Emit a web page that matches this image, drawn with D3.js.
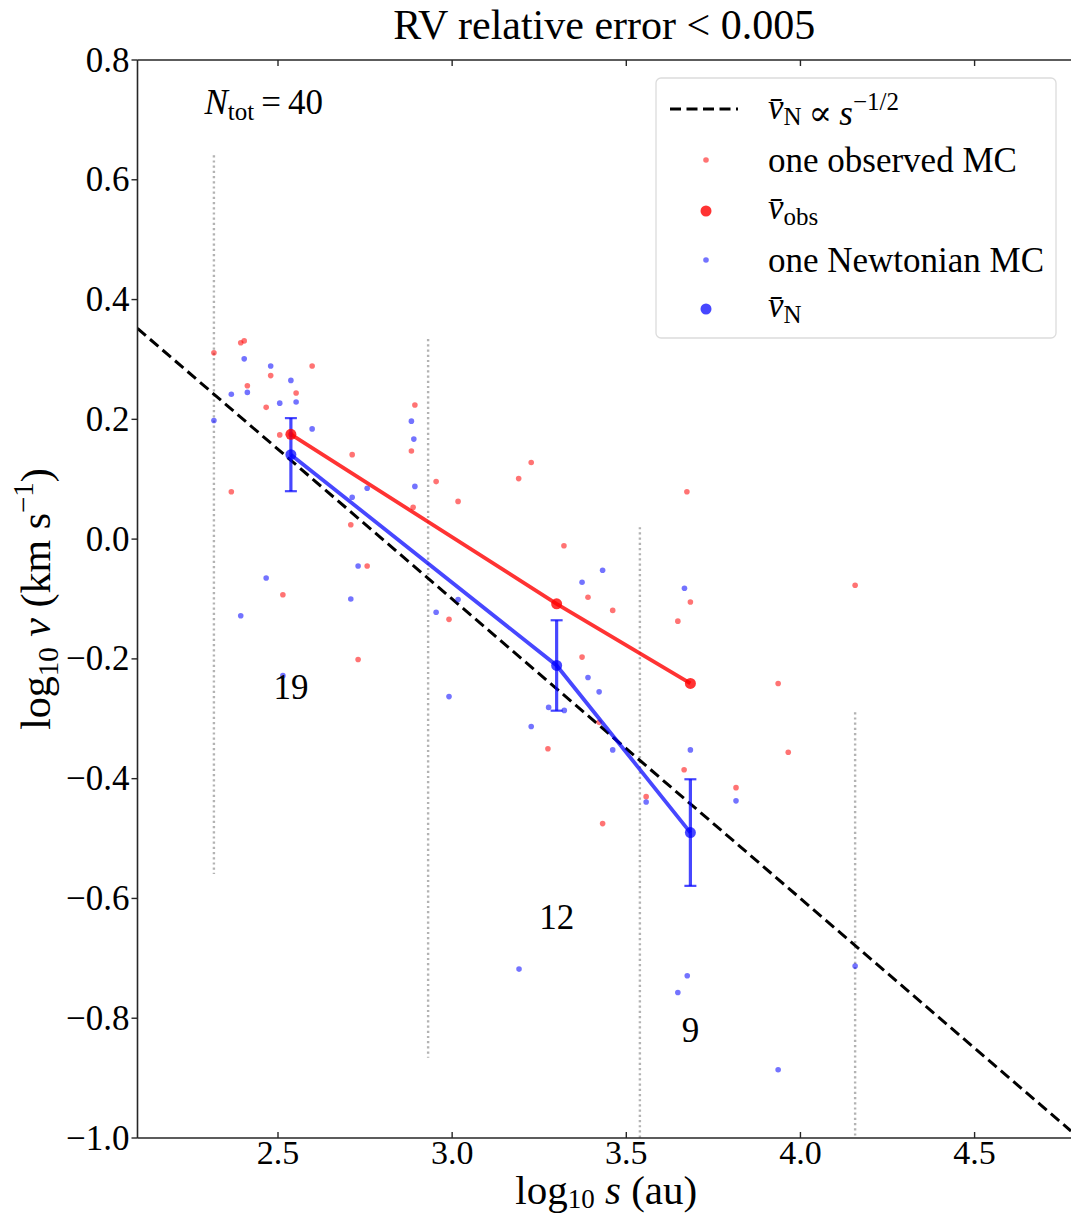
<!DOCTYPE html>
<html>
<head>
<meta charset="utf-8">
<script src="https://cdn.jsdelivr.net/npm/d3@7"></script>
<style>
  html, body { margin: 0; padding: 0; background: #fff; }
  svg { display: block; }
  text { font-family: "Liberation Serif", "DejaVu Serif", serif; fill: #000; }
</style>
</head>
<body>
<svg id="chart" width="1071" height="1216"></svg>
<script>
// ---------------- data ----------------
const titleText = "RV relative error < 0.005";
const xTicks = [2.5, 3.0, 3.5, 4.0, 4.5];
const yTicks = [0.8, 0.6, 0.4, 0.2, 0.0, -0.2, -0.4, -0.6, -0.8, -1.0];
const xDomain = [2.0966, 4.7768];
const yDomain = [-1.0, 0.8];

// one observed MC realisation (red)
const obsX = [2.316, 2.393, 2.403, 2.598, 2.412, 2.479, 2.552, 2.466, 2.505, 2.713,
              2.366, 2.709, 2.514, 2.730, 2.893, 2.883, 2.954, 3.017, 2.888, 2.756,
              2.991, 3.227, 3.191, 3.321, 3.390, 3.461, 3.373, 3.275, 3.432, 3.674,
              3.684, 3.648, 3.936, 3.666, 3.815, 3.557, 3.965, 4.157, 3.422, 2.537];
const obsY = [0.311, 0.328, 0.331, 0.289, 0.256, 0.273, 0.244, 0.220, 0.174, 0.141,
              0.079, 0.024, -0.093, -0.201, 0.224, 0.147, 0.096, 0.063, 0.053, -0.045,
              -0.134, 0.128, 0.101, -0.011, -0.097, -0.119, -0.197, -0.350, -0.475, 0.079,
              -0.105, -0.137, -0.241, -0.385, -0.415, -0.430, -0.356, -0.077, -0.306, 0.175];

// one Newtonian MC realisation (blue)
const newtX = [2.403, 2.479, 2.537, 2.366, 2.412, 2.505, 2.552, 2.316, 2.598, 2.713,
               2.730, 2.466, 2.393, 2.709, 2.514, 2.883, 2.890, 2.893, 2.756, 2.954,
               3.017, 2.991, 3.432, 3.373, 3.390, 3.422, 3.277, 3.322, 3.227, 3.461,
               3.192, 3.667, 3.684, 3.815, 3.557, 3.675, 3.648, 4.157, 3.936];
const newtY = [0.301, 0.289, 0.265, 0.242, 0.245, 0.227, 0.229, 0.198, 0.184, 0.070,
               -0.045, -0.065, -0.128, -0.100, -0.228, 0.197, 0.167, 0.088, 0.085, -0.122,
               -0.101, -0.263, -0.052, -0.072, -0.231, -0.255, -0.281, -0.286, -0.313, -0.352,
               -0.718, -0.082, -0.352, -0.437, -0.439, -0.729, -0.757, -0.713, -0.886];

// bin means
const binMeanX = [2.537, 3.300, 3.684];
const obsMean  = [0.175, -0.108, -0.241];
const newtMean = [0.141, -0.211, -0.490];
const newtErr  = [0.061, 0.0755, 0.089];

// bin edges (dotted verticals)
const binEdges      = [2.316, 2.931, 3.539, 4.157];
const binEdgeTop    = [0.641, 0.334, 0.020, -0.289];
const binEdgeBottom = [-0.559, -0.866, -1.18, -1.489];

// counts per bin
const binCounts  = ["19", "12", "9"];
const countLabelY = [-0.248, -0.631, -0.820];
const nTot = 40;

// Newtonian scaling v ∝ s^(-1/2)
const powerNorm = 1.40;
const powerSlope = -0.5;

// ---------------- drawing ----------------
(function () {
const svg = d3.select("#chart");
const pL = 137.5, pR = 1071, pT = 60, pB = 1138;
const FS = 35, FL = 42, FSUB = 25;

const x = d3.scaleLinear().domain(xDomain).range([pL, pR]);
const y = d3.scaleLinear().domain(yDomain).range([pB, pT]);

const red = "rgba(255,0,0,0.55)", blue = "rgba(0,0,255,0.55)";
const redStrong = "rgba(255,0,0,0.8)", blueStrong = "rgba(0,0,255,0.72)";

svg.append("defs").append("clipPath").attr("id", "plotclip")
  .append("rect").attr("x", pL).attr("y", pT).attr("width", pR - pL).attr("height", pB - pT);

const plot = svg.append("g").attr("clip-path", "url(#plotclip)");

// dotted bin edges
plot.selectAll("line.edge").data(binEdges).join("line")
  .attr("class", "edge")
  .attr("x1", d => x(d)).attr("x2", d => x(d))
  .attr("y1", (d, i) => y(binEdgeTop[i])).attr("y2", (d, i) => y(binEdgeBottom[i]))
  .attr("stroke", "#b3b3b3").attr("stroke-width", 2.4).attr("stroke-dasharray", "2.2,3");

// power law dashed line
plot.append("line")
  .attr("x1", x(xDomain[0])).attr("y1", y(powerNorm + powerSlope * xDomain[0]))
  .attr("x2", x(xDomain[1])).attr("y2", y(powerNorm + powerSlope * xDomain[1]))
  .attr("stroke", "#000").attr("stroke-width", 3).attr("stroke-dasharray", "11,5.5");

// MC points
plot.selectAll("circle.obs").data(obsX).join("circle").attr("class", "obs")
  .attr("cx", d => x(d)).attr("cy", (d, i) => y(obsY[i])).attr("r", 2.8).attr("fill", red);
plot.selectAll("circle.newt").data(newtX).join("circle").attr("class", "newt")
  .attr("cx", d => x(d)).attr("cy", (d, i) => y(newtY[i])).attr("r", 2.8).attr("fill", blue);

// mean lines
const lineGen = (vals) => d3.line().x((d, i) => x(binMeanX[i])).y(d => y(d))(vals);
plot.append("path").attr("d", lineGen(obsMean)).attr("fill", "none")
  .attr("stroke", redStrong).attr("stroke-width", 3.8);
plot.append("path").attr("d", lineGen(newtMean)).attr("fill", "none")
  .attr("stroke", blueStrong).attr("stroke-width", 3.8);

// error bars
const eb = plot.selectAll("g.eb").data(newtMean).join("g").attr("class", "eb");
eb.append("line")
  .attr("x1", (d, i) => x(binMeanX[i])).attr("x2", (d, i) => x(binMeanX[i]))
  .attr("y1", (d, i) => y(d + newtErr[i])).attr("y2", (d, i) => y(d - newtErr[i]))
  .attr("stroke", blueStrong).attr("stroke-width", 3.2);
[1, -1].forEach(s => {
  eb.append("line")
    .attr("x1", (d, i) => x(binMeanX[i]) - 6).attr("x2", (d, i) => x(binMeanX[i]) + 6)
    .attr("y1", (d, i) => y(d + s * newtErr[i])).attr("y2", (d, i) => y(d + s * newtErr[i]))
    .attr("stroke", blueStrong).attr("stroke-width", 2.2);
});

// mean markers
plot.selectAll("circle.om").data(obsMean).join("circle").attr("class", "om")
  .attr("cx", (d, i) => x(binMeanX[i])).attr("cy", d => y(d)).attr("r", 5.5).attr("fill", redStrong);
plot.selectAll("circle.nm").data(newtMean).join("circle").attr("class", "nm")
  .attr("cx", (d, i) => x(binMeanX[i])).attr("cy", d => y(d)).attr("r", 5.5).attr("fill", blueStrong);

// count labels
svg.selectAll("text.count").data(binCounts).join("text").attr("class", "count")
  .attr("x", (d, i) => x(binMeanX[i])).attr("y", (d, i) => y(countLabelY[i]))
  .attr("text-anchor", "middle").attr("dominant-baseline", "central")
  .attr("font-size", FS).text(d => d);

// ---------------- axes ----------------
const spine = "#262626";
const fmt = v => (v < 0 ? "\u2212" : "") + Math.abs(v).toFixed(1);

svg.append("line").attr("x1", pL).attr("x2", pL).attr("y1", pT).attr("y2", pB)
  .attr("stroke", spine).attr("stroke-width", 1.6);
svg.append("line").attr("x1", pL).attr("x2", pR).attr("y1", pB).attr("y2", pB)
  .attr("stroke", spine).attr("stroke-width", 1.6);
svg.append("line").attr("x1", pL).attr("x2", pR).attr("y1", pT).attr("y2", pT)
  .attr("stroke", spine).attr("stroke-width", 1.6);

const xt = svg.append("g");
xTicks.forEach(t => {
  xt.append("line").attr("x1", x(t)).attr("x2", x(t)).attr("y1", pB).attr("y2", pB - 6)
    .attr("stroke", spine).attr("stroke-width", 1.4);
  xt.append("line").attr("x1", x(t)).attr("x2", x(t)).attr("y1", pT).attr("y2", pT + 6)
    .attr("stroke", spine).attr("stroke-width", 1.4);
  xt.append("text").attr("x", x(t)).attr("y", pB + 26).attr("text-anchor", "middle")
    .attr("font-size", 34).text(t.toFixed(1));
});

const yt = svg.append("g");
yTicks.forEach(t => {
  yt.append("line").attr("x1", pL).attr("x2", pL - 6).attr("y1", y(t)).attr("y2", y(t))
    .attr("stroke", spine).attr("stroke-width", 1.4);
  yt.append("text").attr("x", pL - 8).attr("y", y(t)).attr("text-anchor", "end")
    .attr("dominant-baseline", "central").attr("font-size", FS).text(fmt(t));
});

svg.append("text").attr("x", (pL + pR) / 2).attr("y", 39).attr("text-anchor", "middle")
  .attr("font-size", FL).text(titleText);

const xl = svg.append("text").attr("x", (pL + pR) / 2 + 2).attr("y", 1204)
  .attr("text-anchor", "middle").attr("font-size", 41);
xl.append("tspan").text("log");
xl.append("tspan").attr("font-size", 27).attr("dy", 4).text("10");
xl.append("tspan").attr("dy", -4).text(" ");
xl.append("tspan").attr("font-style", "italic").text("s");
xl.append("tspan").text(" (au)");

const yl = svg.append("text").attr("transform", `translate(50, ${(pT + pB) / 2}) rotate(-90)`)
  .attr("text-anchor", "middle").attr("font-size", FL);
yl.append("tspan").text("log");
yl.append("tspan").attr("font-size", 29).attr("dy", 8).text("10");
yl.append("tspan").attr("dy", -8).text(" ");
yl.append("tspan").attr("font-style", "italic").text("v");
yl.append("tspan").text(" (km s");
yl.append("tspan").attr("font-size", 29).attr("dy", -17).text("\u22121");
yl.append("tspan").attr("dy", 17).text(")");

const nt = svg.append("text").attr("x", pL + 67).attr("y", pT + 54).attr("font-size", FS);
nt.append("tspan").attr("font-style", "italic").text("N");
nt.append("tspan").attr("font-size", FSUB).attr("dy", 6).text("tot");
nt.append("tspan").attr("dy", -6).text("\u2009=\u2009" + nTot);

// ---------------- legend ----------------
const lg = svg.append("g").attr("transform", `translate(656, 78)`);
lg.append("rect").attr("width", 400).attr("height", 260).attr("rx", 5)
  .attr("fill", "rgba(255,255,255,0.8)").attr("stroke", "#dcdcdc").attr("stroke-width", 1.3);
const rowY = [31, 82, 133, 182, 231];
const txtX = 112, mkX = 50;
lg.append("line").attr("x1", 14).attr("x2", 82).attr("y1", rowY[0]).attr("y2", rowY[0])
  .attr("stroke", "#000").attr("stroke-width", 3).attr("stroke-dasharray", "11,5.5");
lg.append("circle").attr("cx", mkX).attr("cy", rowY[1]).attr("r", 2.8).attr("fill", red);
lg.append("circle").attr("cx", mkX).attr("cy", rowY[2]).attr("r", 5.5).attr("fill", redStrong);
lg.append("circle").attr("cx", mkX).attr("cy", rowY[3]).attr("r", 2.8).attr("fill", blue);
lg.append("circle").attr("cx", mkX).attr("cy", rowY[4]).attr("r", 5.5).attr("fill", blueStrong);

function vbar(t, sub) {
  t.append("tspan").attr("font-style", "italic").text("v\u0304");
  t.append("tspan").attr("font-size", FSUB).attr("dy", 6).text(sub);
  t.append("tspan").attr("dy", -6).text("");
}
const t0 = lg.append("text").attr("x", txtX).attr("y", rowY[0] + 10).attr("font-size", FS);
vbar(t0, "N");
t0.append("tspan").text("\u2009\u221D\u2009");
t0.append("tspan").attr("font-style", "italic").text("s");
t0.append("tspan").attr("font-size", FSUB).attr("dy", -15).text("\u22121/2");
lg.append("text").attr("x", txtX).attr("y", rowY[1] + 12).attr("font-size", FS).text("one observed MC");
const t2 = lg.append("text").attr("x", txtX).attr("y", rowY[2] + 8).attr("font-size", FS);
vbar(t2, "obs");
lg.append("text").attr("x", txtX).attr("y", rowY[3] + 12).attr("font-size", FS).text("one Newtonian MC");
const t4 = lg.append("text").attr("x", txtX).attr("y", rowY[4] + 8).attr("font-size", FS);
vbar(t4, "N");
})();
</script>
</body>
</html>
